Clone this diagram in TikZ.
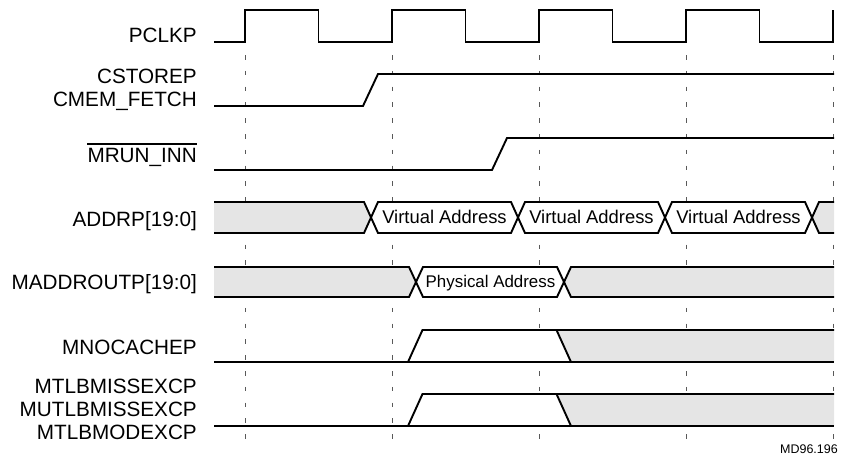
\documentclass[tikz,border=0pt]{standalone}
\usepackage{fontspec}
\setmainfont{Liberation Sans}
\begin{document}
\begin{tikzpicture}[x=1pt,y=-1pt,
  sig/.style={line width=1.9pt, line join=miter},
  gridline/.style={black!65, line width=0.9pt, dash pattern=on 4.5pt off 11.3pt},
  busgray/.style={fill=black!10},
  buswhite/.style={fill=white},
  lbl/.style={anchor=base east, inner sep=0pt, font=\fontsize{20.7}{24}\selectfont},
  vtxt/.style={anchor=base, inner sep=0pt, font=\fontsize{18.4}{22}\selectfont},
  ptxt/.style={anchor=base, inner sep=0pt, font=\fontsize{16.9}{20}\selectfont}]
\useasboundingbox (0,0) rectangle (842,455);

% clock-edge reference lines
\foreach \x in {245,392,539,686,833}
  \draw[gridline] (\x,55) -- (\x,440);

% signal names
\node[lbl] (lpclk)    at (197,42.5) {PCLKP};
\node[lbl] (lcstore)  at (197,83)   {CSTOREP};
\node[lbl] (lcmem)    at (197,106)  {CMEM\_FETCH};
\node[lbl] (lmrun)    at (197,162)  {MRUN\_INN};
\draw[line width=1.3pt] ([yshift=18pt]lmrun.base west) -- ([yshift=18pt]lmrun.base east);
\node[lbl] (laddr)    at (197,226.5) {ADDRP[19:0]};
\node[lbl] (lmaddr)   at (197,289)  {MADDROUTP[19:0]};
\node[lbl] (lnocache) at (197,354)  {MNOCACHEP};
\node[lbl] (lmiss)    at (197,393)  {MTLBMISSEXCP};
\node[lbl] (lumiss)   at (197,416)  {MUTLBMISSEXCP};
\node[lbl] (lmod)     at (197,439)  {MTLBMODEXCP};

% PCLKP
\draw[sig] (214,42) -- (245,42)
  \foreach \e in {245,392,539,686} { -- (\e,10) -- (\e+73.5,10) -- (\e+73.5,42) -- (\e+147,42) }
  -- (833,10);

% CSTOREP / CMEM_FETCH
\draw[sig] (214,106) -- (363,106) -- (378,74) -- (834,74);

% MRUN_INN
\draw[sig] (214,170) -- (492,170) -- (507,138) -- (834,138);

% ADDRP[19:0] bus
\fill[busgray] (214,202) -- (364,202) -- (371,217.5) -- (364,233) -- (214,233) -- cycle;
\fill[buswhite] (371,217.5) -- (378,202) -- (511,202) -- (518,217.5) -- (511,233) -- (378,233) -- cycle;
\fill[buswhite] (518,217.5) -- (525,202) -- (658,202) -- (665,217.5) -- (658,233) -- (525,233) -- cycle;
\fill[buswhite] (665,217.5) -- (672,202) -- (805,202) -- (812,217.5) -- (805,233) -- (672,233) -- cycle;
\fill[busgray] (812,217.5) -- (819,202) -- (834,202) -- (834,233) -- (819,233) -- cycle;
\draw[sig] (214,202) -- (364,202) -- (378,233) -- (511,233) -- (525,202) -- (658,202)
  -- (672,233) -- (805,233) -- (819,202) -- (834,202);
\draw[sig] (214,233) -- (364,233) -- (378,202) -- (511,202) -- (525,233) -- (658,233)
  -- (672,202) -- (805,202) -- (819,233) -- (834,233);
\node[vtxt] (va1) at (444.5,223) {Virtual Address};
\node[vtxt] (va2) at (591.5,223) {Virtual Address};
\node[vtxt] (va3) at (738.5,223) {Virtual Address};

% MADDROUTP[19:0] bus
\fill[busgray] (214,267) -- (409,267) -- (416,282) -- (409,297) -- (214,297) -- cycle;
\fill[buswhite] (416,282) -- (423,267) -- (557,267) -- (564,282) -- (557,297) -- (423,297) -- cycle;
\fill[busgray] (564,282) -- (571,267) -- (834,267) -- (834,297) -- (571,297) -- cycle;
\draw[sig] (214,267) -- (409,267) -- (423,297) -- (557,297) -- (571,267) -- (834,267);
\draw[sig] (214,297) -- (409,297) -- (423,267) -- (557,267) -- (571,297) -- (834,297);
\node[ptxt] (pa) at (490.5,287) {Physical Address};

% MNOCACHEP
\fill[buswhite] (408,362) -- (422.5,330) -- (556.5,330) -- (571,362) -- cycle;
\fill[busgray] (556.5,330) -- (834,330) -- (834,362) -- (571,362) -- cycle;
\draw[sig] (214,362) -- (834,362);
\draw[sig] (408,362) -- (422.5,330) -- (834,330);
\draw[sig] (556.5,330) -- (571,362);

% MTLBMISSEXCP / MUTLBMISSEXCP / MTLBMODEXCP
\fill[buswhite] (408,426) -- (422.5,394) -- (556.5,394) -- (571,426) -- cycle;
\fill[busgray] (556.5,394) -- (834,394) -- (834,426) -- (571,426) -- cycle;
\draw[sig] (214,426) -- (834,426);
\draw[sig] (408,426) -- (422.5,394) -- (834,394);
\draw[sig] (556.5,394) -- (571,426);

% figure code
\node[anchor=base east, inner sep=0pt, font=\fontsize{12.5}{15}\selectfont] (code) at (838,453) {MD96.196};
\end{tikzpicture}
\end{document}
